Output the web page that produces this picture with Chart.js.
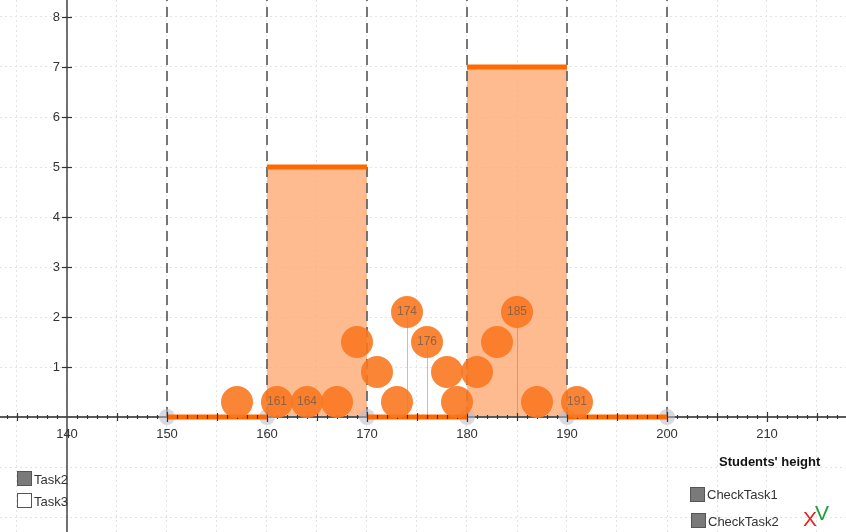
<!DOCTYPE html>
<html lang="en">
<head>
<meta charset="UTF-8">
<title>Students' height</title>
<script src="https://cdn.jsdelivr.net/npm/chart.js"></script>
<style>
  body { margin: 0; background: #fff; font-family: "Liberation Sans", Arial, sans-serif; }
  #wrap { position: relative; width: 846px; height: 532px; overflow: hidden; }
  .box { position: absolute; width: 15px; height: 15px; box-sizing: border-box; border: 1.5px solid #555; }
  .box.on { background: #7a7a7a; }
  .lbl { position: absolute; font-size: 13px; color: #333; line-height: 15px; }
</style>
</head>
<body>
<div id="wrap">
  <canvas id="hist" width="846" height="532"></canvas>

  <div class="box on" style="left:17px; top:471px;"></div>
  <div class="lbl" style="left:34px; top:472px;">Task2</div>
  <div class="box" style="left:17px; top:493px;"></div>
  <div class="lbl" style="left:34px; top:494px;">Task3</div>

  <div class="lbl" style="left:719px; top:454px; font-weight:bold; color:#111;">Students' height</div>
  <div class="box on" style="left:690px; top:487px;"></div>
  <div class="lbl" style="left:707px; top:487px;">CheckTask1</div>
  <div class="box on" style="left:691px; top:513px;"></div>
  <div class="lbl" style="left:708px; top:514px;">CheckTask2</div>
  <div class="lbl" style="left:803px; top:509px; font-size:21px; line-height:20px; color:#e8231f;">X</div>
  <div class="lbl" style="left:815px; top:503px; font-size:21px; line-height:20px; color:#1f9e3a;">V</div>
</div>

<script>
// histogram bins
const binStarts = [150, 160, 170, 180, 190];
const binCounts = [0, 5, 0, 7, 0];
const binWidth = 10;

// individual students (dot plot)
const heights = [157, 161, 164, 167, 169, 171, 173, 174, 176, 178, 179, 181, 183, 185, 187, 191];
const stackLevel = [0.3, 0.3, 0.3, 0.3, 1.5, 0.9, 0.3, 2.1, 1.5, 0.9, 0.3, 0.9, 1.5, 2.1, 0.3, 0.3];
const pointLabels = ['', '161', '164', '', '', '', '', '174', '176', '', '', '', '', '185', '', '191'];

// axis labels
const xTickLabels = [140, 150, 160, 170, 180, 190, 200, 210];
const yTickLabels = [1, 2, 3, 4, 5, 6, 7, 8];

// view window
const xMin = 133.3, xMax = 217.9;
const yMin = -2.3, yMax = 8.34;

const edges = binStarts.concat([binStarts[binStarts.length - 1] + binWidth]);

// filled area (stepped)
const fillData = binStarts.map((s, i) => ({ x: s, y: binCounts[i] }));
fillData.push({ x: edges[edges.length - 1], y: binCounts[binCounts.length - 1] });

// thick tops, one segment per bin
const topData = [];
binStarts.forEach((s, i) => {
  topData.push({ x: s, y: binCounts[i] });
  topData.push({ x: s + binWidth, y: binCounts[i] });
  topData.push({ x: s + binWidth, y: null });
});

const dotData = heights.map((h, i) => ({ x: h, y: stackLevel[i] }));

const gridX = [];
for (let v = 135; v <= 215; v += 5) gridX.push(v);
const gridY = [];
for (let v = -2; v <= 8; v++) gridY.push(v);

const font = '"Liberation Sans", Arial, sans-serif';

const overlay = {
  id: 'overlay',
  afterDatasetDraw(chart, args) {
    const ctx = chart.ctx;
    const sx = chart.scales.x, sy = chart.scales.y;
    const y0 = Math.round(sy.getPixelForValue(0));
    const x0 = Math.round(sx.getPixelForValue(140));
    ctx.save();
    if (args.index === 0) {
      // dashed class boundaries
      ctx.strokeStyle = 'rgba(95,95,95,0.85)';
      ctx.lineWidth = 2;
      ctx.setLineDash([10, 6]);
      edges.forEach(v => {
        const px = Math.round(sx.getPixelForValue(v));
        ctx.beginPath(); ctx.moveTo(px, y0); ctx.lineTo(px, 0); ctx.stroke();
      });
      ctx.setLineDash([]);
      // pointer lines from raised labelled dots
      ctx.strokeStyle = 'rgba(140,140,140,0.55)';
      ctx.lineWidth = 1;
      heights.forEach((h, i) => {
        if (!pointLabels[i] || stackLevel[i] < 1) return;
        const px = Math.round(sx.getPixelForValue(h)) + 0.5;
        ctx.beginPath(); ctx.moveTo(px, sy.getPixelForValue(stackLevel[i])); ctx.lineTo(px, y0); ctx.stroke();
      });
      // axes
      ctx.strokeStyle = '#5a5a5a';
      ctx.lineWidth = 2;
      ctx.beginPath(); ctx.moveTo(0, y0); ctx.lineTo(chart.width, y0); ctx.stroke();
      ctx.strokeStyle = '#444';
      ctx.lineWidth = 1.5;
      ctx.beginPath(); ctx.moveTo(x0, 0); ctx.lineTo(x0, chart.height); ctx.stroke();
      // faint markers at boundaries
      ctx.fillStyle = 'rgba(185,188,200,0.55)';
      edges.forEach(v => {
        ctx.beginPath(); ctx.arc(sx.getPixelForValue(v), y0, 8, 0, Math.PI * 2); ctx.fill();
      });
    }
    if (args.index === 1) {
      // x ticks
      ctx.strokeStyle = '#333';
      ctx.lineWidth = 1.2;
      for (let v = Math.ceil(xMin); v <= xMax; v++) {
        if (v === 140) continue;
        const len = v % 10 === 0 ? 5 : (v % 5 === 0 ? 4 : 2);
        const px = Math.round(sx.getPixelForValue(v)) + 0.5;
        ctx.beginPath(); ctx.moveTo(px, y0 - len); ctx.lineTo(px, y0 + len); ctx.stroke();
      }
      // y ticks
      yTickLabels.forEach(v => {
        const py = Math.round(sy.getPixelForValue(v)) + 0.5;
        ctx.beginPath(); ctx.moveTo(x0 - 5, py); ctx.lineTo(x0 + 5, py); ctx.stroke();
      });

      ctx.fillStyle = '#333';
      ctx.font = '13px ' + font;
      ctx.textAlign = 'center';
      ctx.textBaseline = 'middle';
      xTickLabels.forEach(v => {
        ctx.fillText(String(v), sx.getPixelForValue(v), y0 + 17);
      });
      ctx.textAlign = 'right';
      yTickLabels.forEach(v => {
        ctx.fillText(String(v), x0 - 7, sy.getPixelForValue(v));
      });
    }
    ctx.restore();
  },
  afterDatasetsDraw(chart) {
    const ctx = chart.ctx;
    const sx = chart.scales.x, sy = chart.scales.y;
    ctx.save();
    ctx.fillStyle = 'rgba(110,88,75,0.75)';
    ctx.font = '12px ' + font;
    ctx.textAlign = 'center';
    ctx.textBaseline = 'middle';
    heights.forEach((h, i) => {
      if (pointLabels[i]) ctx.fillText(pointLabels[i], sx.getPixelForValue(h), sy.getPixelForValue(stackLevel[i]));
    });
    ctx.restore();
  }
};

new Chart(document.getElementById('hist'), {
  type: 'line',
  data: {
    datasets: [
      {
        label: 'bins',
        data: fillData,
        stepped: 'before',
        fill: 'origin',
        backgroundColor: 'rgba(253,170,115,0.8)',
        borderWidth: 0,
        pointRadius: 0,
        order: 3
      },
      {
        label: 'tops',
        data: topData,
        borderColor: '#ff6a00',
        borderWidth: 5,
        borderCapStyle: 'butt',
        fill: false,
        pointRadius: 0,
        spanGaps: false,
        order: 2
      },
      {
        type: 'scatter',
        label: 'students',
        data: dotData,
        backgroundColor: 'rgba(250,120,32,0.9)',
        borderWidth: 0,
        pointRadius: 16,
        pointHoverRadius: 16,
        order: 1
      }
    ]
  },
  options: {
    responsive: false,
    animation: false,
    events: [],
    layout: { padding: 0, autoPadding: false },
    plugins: { legend: { display: false }, tooltip: { enabled: false } },
    scales: {
      x: {
        type: 'linear',
        min: xMin,
        max: xMax,
        afterBuildTicks: s => { s.ticks = gridX.map(v => ({ value: v })); },
        ticks: { display: false },
        grid: { color: '#e4e4e4', lineWidth: 1, drawTicks: false },
        border: { display: false, dash: [2, 3] }
      },
      y: {
        type: 'linear',
        min: yMin,
        max: yMax,
        afterBuildTicks: s => { s.ticks = gridY.map(v => ({ value: v })); },
        ticks: { display: false },
        grid: { color: '#e4e4e4', lineWidth: 1, drawTicks: false },
        border: { display: false, dash: [2, 3] }
      }
    }
  },
  plugins: [overlay]
});
</script>
</body>
</html>
